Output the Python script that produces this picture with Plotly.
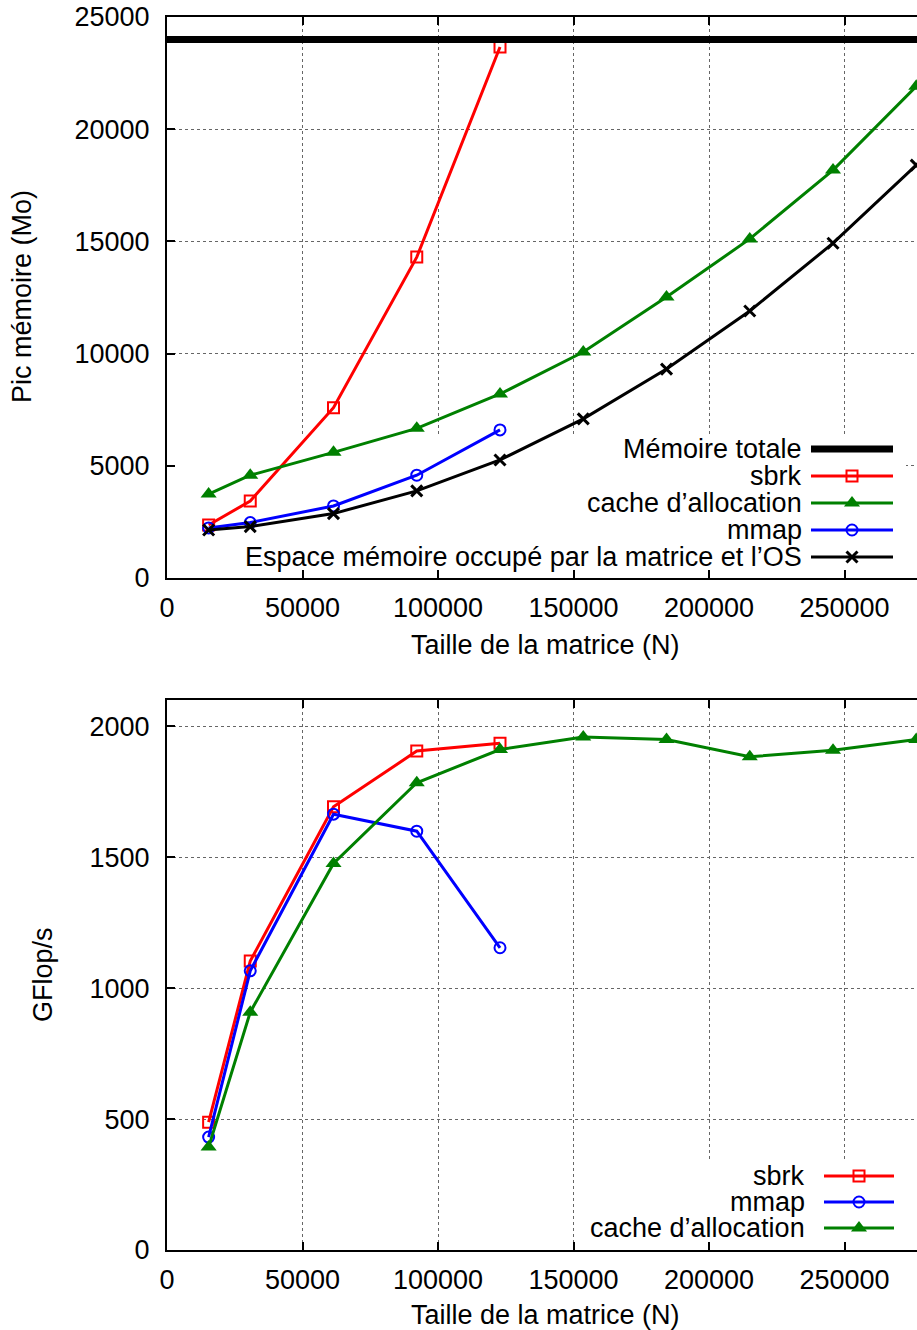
import plotly.graph_objects as go

# ---------------- data ----------------
N = [15360, 30720, 61440, 92160, 122880, 153600, 184320, 215040, 245760, 276480]

memoire_totale = 24000
mem_sbrk = [2360, 3430, 7590, 14300, 23660]
mem_cache = [3740, 4580, 5600, 6670, 8200, 10070, 12520, 15110, 18180, 21910]
mem_mmap = [2230, 2470, 3210, 4580, 6600]
mem_matrice_os = [2140, 2290, 2870, 3880, 5260, 7090, 9310, 11900, 14920, 18400]

gflops_sbrk = [488, 1103, 1692, 1905, 1935]
gflops_mmap = [431, 1066, 1664, 1599, 1154]
gflops_cache = [393, 908, 1476, 1784, 1911, 1959, 1949, 1883, 1908, 1949]

x_ticks = [0, 50000, 100000, 150000, 200000, 250000]
mem_ticks = [0, 5000, 10000, 15000, 20000, 25000]
gflops_ticks = [0, 500, 1000, 1500, 2000]

# ---------------- layout helpers ----------------
W, H = 917, 1330
L = 167
FONT = "Liberation Sans, Arial, Helvetica, sans-serif"
FS = 27

RED, GREEN, BLUE, BLACK = "#ff0000", "#008000", "#0000ff", "#000000"

x_range = [0, 276750]
mem_range = [0, 25000]
gflops_range = [0, 2100]
TOP_Y0, TOP_Y1 = 17, 578      # pixel rows of top plot area
BOT_Y0, BOT_Y1 = 700, 1250    # pixel rows of bottom plot area


def px(x):
    return (x - L) / (W - L)


def py(y):
    return 1 - y / H


def xdata(pix):
    return x_range[0] + px(pix) * (x_range[1] - x_range[0])


def ydata(pix, y0, y1, rng):
    return rng[0] + (y1 - pix) / (y1 - y0) * (rng[1] - rng[0])


styles = {
    "sbrk": dict(color=RED, symbol="square-open", size=11, mlw=2),
    "cache": dict(color=GREEN, symbol="triangle-up", size=14, mlw=0),
    "mmap": dict(color=BLUE, symbol="circle-open", size=11, mlw=2),
    "os": dict(color=BLACK, symbol="x-thin-open", size=11, mlw=3),
}


def series(x, y, key, xa, ya):
    s = styles[key]
    return go.Scatter(
        x=x, y=y, mode="lines+markers", xaxis=xa, yaxis=ya, showlegend=False,
        line=dict(color=s["color"], width=3),
        marker=dict(symbol=s["symbol"], size=s["size"], color=s["color"],
                    line=dict(color=s["color"], width=s["mlw"])),
    )


def key_box(xa, ya, x0p, x1p, y0p, y1p, pa0, pa1, rng):
    # opaque white key background: above the grid, below the data
    xs = [xdata(x0p), xdata(x1p), xdata(x1p), xdata(x0p), xdata(x0p)]
    yb, yt = ydata(y1p, pa0, pa1, rng), ydata(y0p, pa0, pa1, rng)
    ys = [yb, yb, yt, yt, yb]
    return go.Scatter(x=xs, y=ys, mode="lines", fill="toself", fillcolor="white",
                      line=dict(width=0, color="white"), xaxis=xa, yaxis=ya,
                      hoverinfo="skip", showlegend=False)


fig = go.Figure()

fig.add_trace(key_box("x", "y", 169, 906, 435, 577, TOP_Y0, TOP_Y1, mem_range))
fig.add_trace(key_box("x2", "y2", 580, 906, 1162, 1249, BOT_Y0, BOT_Y1, gflops_range))

# top chart: memory peak
fig.add_trace(series(N[:len(mem_sbrk)], mem_sbrk, "sbrk", "x", "y"))
fig.add_trace(series(N[:len(mem_cache)], mem_cache, "cache", "x", "y"))
fig.add_trace(series(N[:len(mem_mmap)], mem_mmap, "mmap", "x", "y"))
fig.add_trace(series(N[:len(mem_matrice_os)], mem_matrice_os, "os", "x", "y"))

# bottom chart: GFlop/s
fig.add_trace(series(N[:len(gflops_sbrk)], gflops_sbrk, "sbrk", "x2", "y2"))
fig.add_trace(series(N[:len(gflops_mmap)], gflops_mmap, "mmap", "x2", "y2"))
fig.add_trace(series(N[:len(gflops_cache)], gflops_cache, "cache", "x2", "y2"))

# ---------------- manual legends (text left of sample) ----------------
top_legend = [
    ("Mémoire totale", None, 449),
    ("sbrk", "sbrk", 476),
    ("cache d’allocation", "cache", 503),
    ("mmap", "mmap", 530),
    ("Espace mémoire occupé par la matrice et l’OS", "os", 557),
]
bot_legend = [
    ("sbrk", "sbrk", 1176),
    ("mmap", "mmap", 1202),
    ("cache d’allocation", "cache", 1228),
]

annotations = []
for entries, text_x, x0, x1 in [(top_legend, 804, 811, 893), (bot_legend, 807, 824, 894)]:
    for label, key, yy in entries:
        annotations.append(dict(
            text=label, x=px(text_x), y=py(yy), xref="paper", yref="paper",
            xanchor="right", yanchor="middle", showarrow=False,
            font=dict(family=FONT, size=FS, color="black"),
        ))
        if key is None:
            fig.add_trace(go.Scatter(
                x=[x0, x1], y=[yy, yy], mode="lines", xaxis="x3", yaxis="y3",
                showlegend=False, cliponaxis=False, hoverinfo="skip",
                line=dict(color="black", width=7)))
        else:
            s = styles[key]
            fig.add_trace(go.Scatter(
                x=[x0, x1], y=[yy, yy], mode="lines", xaxis="x3", yaxis="y3",
                showlegend=False, cliponaxis=False, hoverinfo="skip",
                line=dict(color=s["color"], width=3)))
            fig.add_trace(go.Scatter(
                x=[(x0 + x1) / 2], y=[yy], mode="markers", xaxis="x3", yaxis="y3",
                showlegend=False, cliponaxis=False, hoverinfo="skip",
                marker=dict(symbol=s["symbol"], size=s["size"], color=s["color"],
                            line=dict(color=s["color"], width=s["mlw"]))))

# axis titles
annotations += [
    dict(text="Taille de la matrice (N)", x=px(545), y=py(645), xref="paper", yref="paper",
         xanchor="center", yanchor="middle", showarrow=False,
         font=dict(family=FONT, size=FS, color="black")),
    dict(text="Taille de la matrice (N)", x=px(545), y=py(1315), xref="paper", yref="paper",
         xanchor="center", yanchor="middle", showarrow=False,
         font=dict(family=FONT, size=FS, color="black")),
    dict(text="Pic mémoire (Mo)", x=px(22), y=py(297), xref="paper", yref="paper",
         xanchor="center", yanchor="middle", showarrow=False, textangle=-90,
         font=dict(family=FONT, size=FS, color="black")),
    dict(text="GFlop/s", x=px(43), y=py(975), xref="paper", yref="paper",
         xanchor="center", yanchor="middle", showarrow=False, textangle=-90,
         font=dict(family=FONT, size=FS, color="black")),
]

# total memory: thick horizontal line across the top plot
shapes = [
    dict(type="line", xref="x domain", yref="y", x0=0, x1=1,
         y0=memoire_totale, y1=memoire_totale,
         line=dict(color="black", width=7), layer="above"),
]

axis_common = dict(
    showline=True, linecolor="black", linewidth=2,
    ticks="inside", ticklen=8, tickwidth=1.5, tickcolor="black",
    showgrid=True, gridcolor="#666666", gridwidth=1, griddash="dot",
    zeroline=False, tickformat="d", automargin=False,
    tickfont=dict(family=FONT, size=FS, color="black"),
)

fig.update_layout(
    width=W, height=H,
    margin=dict(l=L, r=0, t=0, b=0, pad=0, autoexpand=False),
    paper_bgcolor="white", plot_bgcolor="rgba(0,0,0,0)",
    showlegend=False,
    xaxis=dict(domain=[0, 1], anchor="y", range=x_range, tickvals=x_ticks,
               mirror="ticks", ticklabelstandoff=5, **axis_common),
    yaxis=dict(domain=[py(TOP_Y1), py(TOP_Y0)], anchor="x", range=mem_range, tickvals=mem_ticks,
               ticklabelstandoff=10, **axis_common),
    xaxis2=dict(domain=[0, 1], anchor="y2", range=x_range, tickvals=x_ticks,
                mirror="ticks", ticklabelstandoff=5, **axis_common),
    yaxis2=dict(domain=[py(BOT_Y1), py(BOT_Y0)], anchor="x2", range=gflops_range,
                tickvals=gflops_ticks, ticklabelstandoff=10, **axis_common),
    xaxis3=dict(domain=[0, 1], anchor="y3", range=[L, W], visible=False, fixedrange=True,
                automargin=False),
    yaxis3=dict(domain=[0, 1], anchor="x3", range=[H, 0], visible=False, fixedrange=True,
                automargin=False),
    annotations=annotations,
    shapes=shapes,
)

fig.write_html("out.html")
